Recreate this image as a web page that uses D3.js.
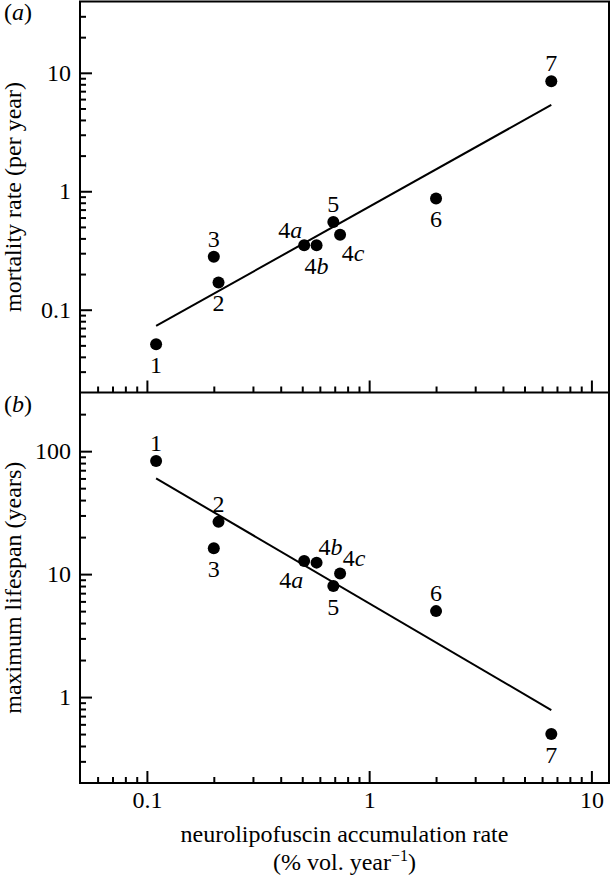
<!DOCTYPE html>
<html>
<head>
<meta charset="utf-8">
<script src="https://cdn.jsdelivr.net/npm/d3@7"></script>
<style>
  html, body { margin: 0; padding: 0; background: #fff; }
  svg { display: block; }
</style>
</head>
<body>
<svg id="chart" width="611" height="879"></svg>
<script>
// ---------- data ----------
const species = ["1", "2", "3", "4a", "4b", "4c", "5", "6", "7"];
const accumulationRate = [0.11, 0.21, 0.20, 0.51, 0.58, 0.74, 0.69, 2.0, 6.6];
const mortalityRate = [0.051, 0.17, 0.28, 0.35, 0.35, 0.43, 0.55, 0.87, 8.5];
const maxLifespan = [83, 26.6, 16.2, 12.8, 12.4, 10.1, 8.0, 5.0, 0.5];

// regression line end points (x, y)
const fitMortality = [[0.11, 0.073], [6.6, 5.36]];
const fitLifespan = [[0.11, 60], [6.6, 0.784]];

// label placement codes (relative to each point)
const labelPlaceA = ["s", "s", "n", "nw", "s", "se", "n", "s", "n"];
const labelPlaceB = ["n", "n", "s", "sw", "ne", "ne", "s", "n", "s"];

const xMajorTicks = [0.1, 1, 10];
const yMajorTicksA = [0.1, 1, 10];
const yMajorTicksB = [1, 10, 100];

const xDomain = [0.05, 12];
const yDomainA = [0.02, 40];
const yDomainB = [0.2, 300];

const xTitle1 = "neurolipofuscin accumulation rate";
const yTitleA = "mortality rate (per year)";
const yTitleB = "maximum lifespan (years)";

// ---------- layout ----------
const FS = 24;
const FONT = "Liberation Serif";
const pLeft = 80, pRight = 609, pTop = 1.5, pMid = 392.5, pBottom = 783;
const svg = d3.select("#chart");

const x = d3.scaleLog().domain(xDomain).range([pLeft, pRight]);
const yA = d3.scaleLog().domain(yDomainA).range([pMid, pTop]);
const yB = d3.scaleLog().domain(yDomainB).range([pBottom, pMid]);

const fmt = d => (d >= 1 ? d3.format("d")(d) : String(d));

function txt(sel) {
  return sel.style("font-family", FONT).style("font-size", FS + "px").attr("fill", "#000");
}

function minorTicks(scale, majors) {
  const [d0, d1] = scale.domain();
  return scale.ticks().filter(t =>
    !majors.some(m => Math.abs(m - t) / m < 1e-6) &&
    Math.abs(t - d0) / d0 > 1e-6 && Math.abs(t - d1) / d1 > 1e-6);
}

function styleAxis(g) {
  g.select(".domain").remove();
  g.attr("font-family", null).attr("font-size", null);
  g.selectAll("line").attr("stroke", "#000").attr("stroke-width", 2);
  g.selectAll("text").call(txt);
}

// y axes
function drawY(scale, majors) {
  svg.append("g").attr("transform", `translate(${pLeft},0)`)
    .call(d3.axisLeft(scale).tickValues(minorTicks(scale, majors)).tickSizeInner(-6).tickSizeOuter(0).tickFormat(""))
    .call(styleAxis);
  svg.append("g").attr("transform", `translate(${pLeft},0)`)
    .call(d3.axisLeft(scale).tickValues(majors).tickSizeInner(-12).tickSizeOuter(0).tickPadding(9).tickFormat(fmt))
    .call(styleAxis);
}
drawY(yA, yMajorTicksA);
drawY(yB, yMajorTicksB);

// x axes (bottom of panel a, no labels; bottom of panel b with labels)
function drawX(yPos, withLabels) {
  svg.append("g").attr("transform", `translate(0,${yPos})`)
    .call(d3.axisBottom(x).tickValues(minorTicks(x, xMajorTicks)).tickSizeInner(-6).tickSizeOuter(0).tickFormat(""))
    .call(styleAxis);
  svg.append("g").attr("transform", `translate(0,${yPos})`)
    .call(d3.axisBottom(x).tickValues(xMajorTicks).tickSizeInner(-12).tickSizeOuter(0).tickPadding(8)
      .tickFormat(withLabels ? fmt : ""))
    .call(styleAxis);
}
drawX(pMid, false);
drawX(pBottom, true);

// frame
svg.append("rect").attr("x", pLeft).attr("y", pTop).attr("width", pRight - pLeft).attr("height", pBottom - pTop)
  .attr("fill", "none").attr("stroke", "#000").attr("stroke-width", 2);
svg.append("line").attr("x1", pLeft).attr("x2", pRight).attr("y1", pMid).attr("y2", pMid)
  .attr("stroke", "#000").attr("stroke-width", 2);

// panels
const offsets = { n: [0, -18], s: [0, 21], nw: [-14, -15], sw: [-13, 19], ne: [14, -16], se: [13, 18] };

function labelText(sel, name) {
  const m = name.match(/^(\d)([a-z]?)$/);
  sel.append("tspan").text(m[1]);
  if (m[2]) sel.append("tspan").style("font-style", "italic").text(m[2]);
}

function drawPanel(yScale, yVals, fit, places) {
  const g = svg.append("g");
  g.append("path")
    .attr("d", d3.line().x(d => x(d[0])).y(d => yScale(d[1]))(fit))
    .attr("fill", "none").attr("stroke", "#000").attr("stroke-width", 2);
  g.selectAll("circle").data(species).enter().append("circle")
    .attr("cx", (d, i) => x(accumulationRate[i]))
    .attr("cy", (d, i) => yScale(yVals[i]))
    .attr("r", 6).attr("fill", "#000");
  species.forEach((s, i) => {
    const o = offsets[places[i]];
    const t = g.append("text")
      .attr("x", x(accumulationRate[i]) + o[0])
      .attr("y", yScale(yVals[i]) + o[1] + 8)
      .attr("text-anchor", "middle")
      .call(txt);
    labelText(t, s);
  });
}
drawPanel(yA, mortalityRate, fitMortality, labelPlaceA);
drawPanel(yB, maxLifespan, fitLifespan, labelPlaceB);

// panel letters
function panelLetter(yBase, letter) {
  const t = svg.append("text").attr("x", 4).attr("y", yBase).call(txt);
  t.append("tspan").text("(");
  t.append("tspan").style("font-style", "italic").text(letter);
  t.append("tspan").text(")");
}
panelLetter(20, "a");
panelLetter(412, "b");

// axis titles
svg.append("text").attr("transform", `translate(20.5,${(pTop + pMid) / 2}) rotate(-90)`)
  .attr("text-anchor", "middle").call(txt).text(yTitleA);
svg.append("text").attr("transform", `translate(20.5,${(pMid + pBottom) / 2}) rotate(-90)`)
  .attr("text-anchor", "middle").call(txt).text(yTitleB);

svg.append("text").attr("x", (pLeft + pRight) / 2).attr("y", 842)
  .attr("text-anchor", "middle").call(txt).text(xTitle1);
const t2 = svg.append("text").attr("x", (pLeft + pRight) / 2).attr("y", 870)
  .attr("text-anchor", "middle").call(txt);
t2.append("tspan").text("(% vol. year");
t2.append("tspan").style("font-size", "16px").attr("dy", -9).text("\u22121");
t2.append("tspan").attr("dy", 9).text(")");
</script>
</body>
</html>
